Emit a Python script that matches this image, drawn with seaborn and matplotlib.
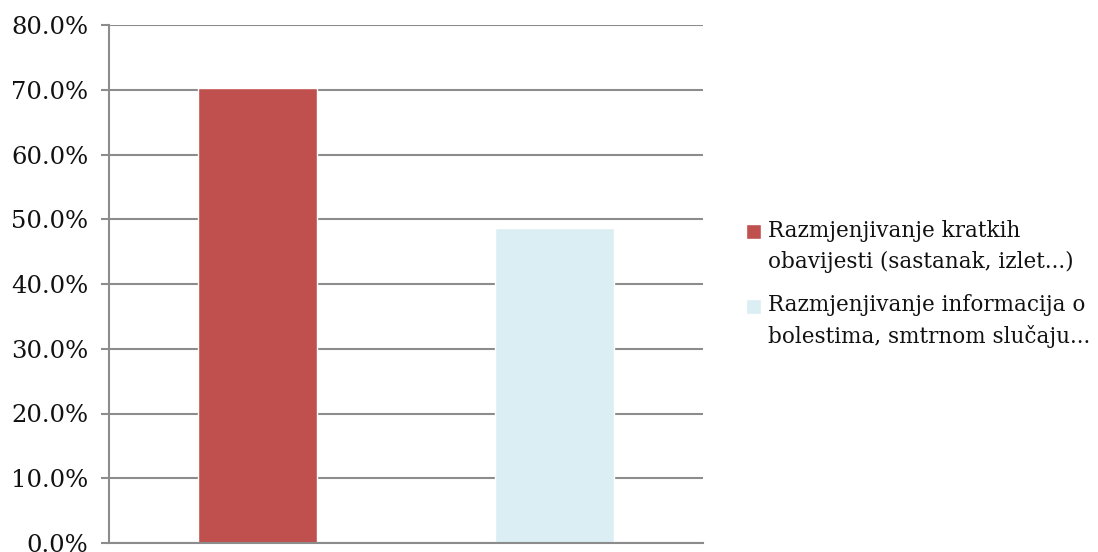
import matplotlib
matplotlib.use("Agg")
import matplotlib.pyplot as plt
import seaborn as sns
from matplotlib.ticker import FuncFormatter
from matplotlib.patches import Rectangle
from matplotlib.legend_handler import HandlerPatch

# Données
categories = ["Razmjenjivanje kratkih\nobavijesti (sastanak, izlet...)",
              "Razmjenjivanje informacija o\nbolestima, smtrnom slučaju..."]
values = [0.702, 0.486]
colors = ["#C0504D", "#DBEEF3"]
yticks = [0.0, 0.1, 0.2, 0.3, 0.4, 0.5, 0.6, 0.7, 0.8]

sns.set_theme(style="white")
plt.rcParams["font.family"] = ["DejaVu Serif"]

fig = plt.figure(figsize=(10.98, 5.52), dpi=100)
ax = fig.add_axes([109 / 1098, 9 / 552, 594 / 1098, 518 / 552])

sns.barplot(x=categories, y=values, hue=categories, palette=colors,
            width=0.4, dodge=False, saturation=1, legend=True, ax=ax)

ax.set_ylim(0, 0.8)
ax.set_yticks(yticks)
ax.yaxis.set_major_formatter(FuncFormatter(lambda v, p: f"{v * 100:.1f}%"))
ax.set_xticks([])
ax.set_xlim(-0.5, 1.5)

ax.grid(axis="y", color="#8C8C8C", linewidth=1.5)
ax.set_axisbelow(True)
for s in ["top", "right"]:
    ax.spines[s].set_visible(False)
for s in ["left", "bottom"]:
    ax.spines[s].set_color("#8C8C8C")
    ax.spines[s].set_linewidth(1.5)
ax.tick_params(axis="y", length=6, width=1.5, color="#8C8C8C",
               labelsize=17.5, labelcolor="#111111", pad=9, left=True)


# carré de légende aligné sur la première ligne du texte
def carre_haut(legend, orig_handle, xdescent, ydescent, width, height, fontsize):
    return Rectangle((-xdescent, -ydescent + 11), width, height)


h, l = ax.get_legend_handles_labels()
leg = ax.legend(h, l, loc="center left", bbox_to_anchor=(1.04, 0.5), frameon=False,
                fontsize=15.5, handlelength=0.7, handleheight=0.7,
                handletextpad=0.3, labelspacing=1.0,
                handler_map={Rectangle: HandlerPatch(patch_func=carre_haut)})
for t in leg.get_texts():
    t.set_linespacing(1.5)
    t.set_color("#111111")

fig.savefig("out.png", dpi=100)
